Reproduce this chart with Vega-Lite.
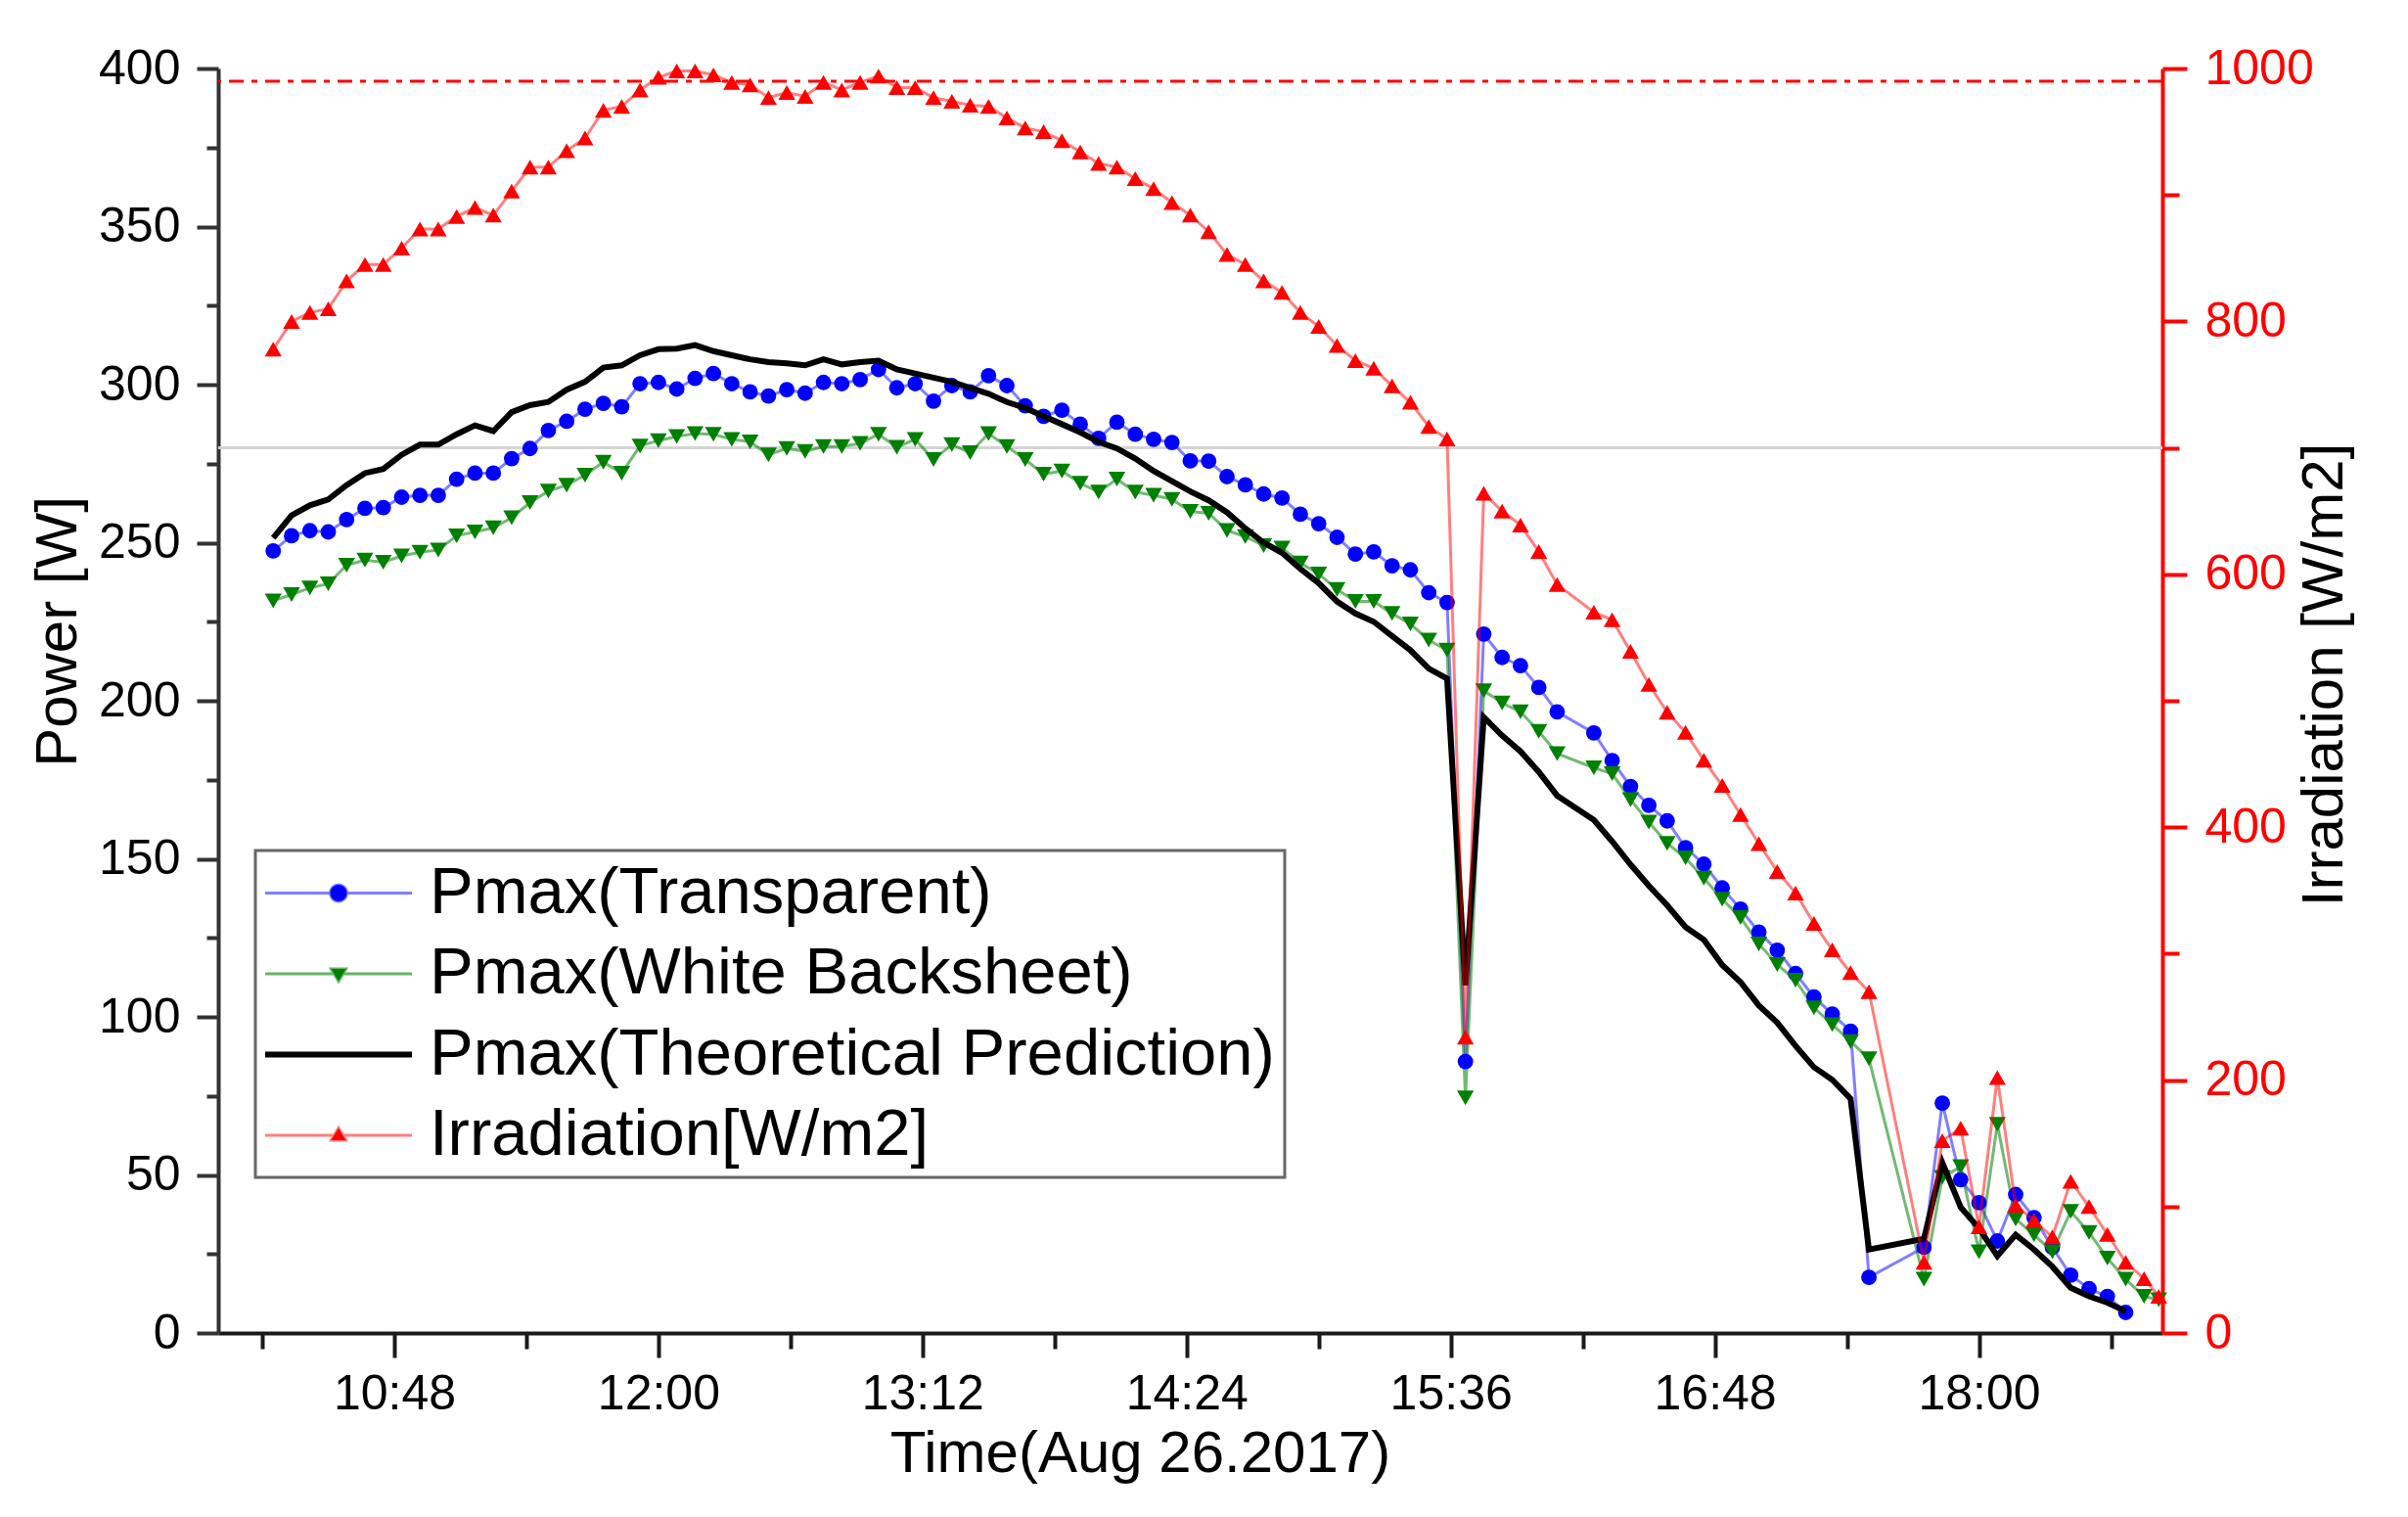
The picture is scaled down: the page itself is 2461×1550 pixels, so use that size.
{
  "$schema": "https://vega.github.io/schema/vega-lite/v6.json",
  "width": 1987,
  "height": 1292,
  "autosize": {"type": "none"},
  "padding": {"left": 223, "top": 70, "right": 251, "bottom": 188},
  "background": "white",
  "datasets": {
    "power": [
      {"time":"2017-08-26T10:15","series":"Pmax(Transparent)","power":247.4},
      {"time":"2017-08-26T10:20","series":"Pmax(Transparent)","power":252.2},
      {"time":"2017-08-26T10:25","series":"Pmax(Transparent)","power":253.8},
      {"time":"2017-08-26T10:30","series":"Pmax(Transparent)","power":253.4},
      {"time":"2017-08-26T10:35","series":"Pmax(Transparent)","power":257.3},
      {"time":"2017-08-26T10:40","series":"Pmax(Transparent)","power":260.9},
      {"time":"2017-08-26T10:45","series":"Pmax(Transparent)","power":261.1},
      {"time":"2017-08-26T10:50","series":"Pmax(Transparent)","power":264.4},
      {"time":"2017-08-26T10:55","series":"Pmax(Transparent)","power":265.0},
      {"time":"2017-08-26T11:00","series":"Pmax(Transparent)","power":265.0},
      {"time":"2017-08-26T11:05","series":"Pmax(Transparent)","power":270.1},
      {"time":"2017-08-26T11:10","series":"Pmax(Transparent)","power":272.0},
      {"time":"2017-08-26T11:15","series":"Pmax(Transparent)","power":272.0},
      {"time":"2017-08-26T11:20","series":"Pmax(Transparent)","power":276.6},
      {"time":"2017-08-26T11:25","series":"Pmax(Transparent)","power":279.8},
      {"time":"2017-08-26T11:30","series":"Pmax(Transparent)","power":285.5},
      {"time":"2017-08-26T11:35","series":"Pmax(Transparent)","power":288.4},
      {"time":"2017-08-26T11:40","series":"Pmax(Transparent)","power":292.2},
      {"time":"2017-08-26T11:45","series":"Pmax(Transparent)","power":294.1},
      {"time":"2017-08-26T11:50","series":"Pmax(Transparent)","power":293.0},
      {"time":"2017-08-26T11:55","series":"Pmax(Transparent)","power":300.3},
      {"time":"2017-08-26T12:00","series":"Pmax(Transparent)","power":300.7},
      {"time":"2017-08-26T12:05","series":"Pmax(Transparent)","power":298.6},
      {"time":"2017-08-26T12:10","series":"Pmax(Transparent)","power":302.0},
      {"time":"2017-08-26T12:15","series":"Pmax(Transparent)","power":303.5},
      {"time":"2017-08-26T12:20","series":"Pmax(Transparent)","power":300.3},
      {"time":"2017-08-26T12:25","series":"Pmax(Transparent)","power":297.7},
      {"time":"2017-08-26T12:30","series":"Pmax(Transparent)","power":296.4},
      {"time":"2017-08-26T12:35","series":"Pmax(Transparent)","power":298.4},
      {"time":"2017-08-26T12:40","series":"Pmax(Transparent)","power":297.3},
      {"time":"2017-08-26T12:45","series":"Pmax(Transparent)","power":300.7},
      {"time":"2017-08-26T12:50","series":"Pmax(Transparent)","power":300.3},
      {"time":"2017-08-26T12:55","series":"Pmax(Transparent)","power":301.6},
      {"time":"2017-08-26T13:00","series":"Pmax(Transparent)","power":304.8},
      {"time":"2017-08-26T13:05","series":"Pmax(Transparent)","power":299.0},
      {"time":"2017-08-26T13:10","series":"Pmax(Transparent)","power":300.3},
      {"time":"2017-08-26T13:15","series":"Pmax(Transparent)","power":294.8},
      {"time":"2017-08-26T13:20","series":"Pmax(Transparent)","power":299.7},
      {"time":"2017-08-26T13:25","series":"Pmax(Transparent)","power":297.7},
      {"time":"2017-08-26T13:30","series":"Pmax(Transparent)","power":302.8},
      {"time":"2017-08-26T13:35","series":"Pmax(Transparent)","power":299.7},
      {"time":"2017-08-26T13:40","series":"Pmax(Transparent)","power":293.3},
      {"time":"2017-08-26T13:45","series":"Pmax(Transparent)","power":290.0},
      {"time":"2017-08-26T13:50","series":"Pmax(Transparent)","power":291.9},
      {"time":"2017-08-26T13:55","series":"Pmax(Transparent)","power":287.5},
      {"time":"2017-08-26T14:00","series":"Pmax(Transparent)","power":283.0},
      {"time":"2017-08-26T14:05","series":"Pmax(Transparent)","power":288.1},
      {"time":"2017-08-26T14:10","series":"Pmax(Transparent)","power":284.3},
      {"time":"2017-08-26T14:15","series":"Pmax(Transparent)","power":282.7},
      {"time":"2017-08-26T14:20","series":"Pmax(Transparent)","power":281.7},
      {"time":"2017-08-26T14:25","series":"Pmax(Transparent)","power":275.9},
      {"time":"2017-08-26T14:30","series":"Pmax(Transparent)","power":275.8},
      {"time":"2017-08-26T14:35","series":"Pmax(Transparent)","power":270.9},
      {"time":"2017-08-26T14:40","series":"Pmax(Transparent)","power":268.3},
      {"time":"2017-08-26T14:45","series":"Pmax(Transparent)","power":265.4},
      {"time":"2017-08-26T14:50","series":"Pmax(Transparent)","power":264.1},
      {"time":"2017-08-26T14:55","series":"Pmax(Transparent)","power":259.0},
      {"time":"2017-08-26T15:00","series":"Pmax(Transparent)","power":256.0},
      {"time":"2017-08-26T15:05","series":"Pmax(Transparent)","power":251.7},
      {"time":"2017-08-26T15:10","series":"Pmax(Transparent)","power":246.4},
      {"time":"2017-08-26T15:15","series":"Pmax(Transparent)","power":247.1},
      {"time":"2017-08-26T15:20","series":"Pmax(Transparent)","power":242.7},
      {"time":"2017-08-26T15:25","series":"Pmax(Transparent)","power":241.4},
      {"time":"2017-08-26T15:30","series":"Pmax(Transparent)","power":234.2},
      {"time":"2017-08-26T15:35","series":"Pmax(Transparent)","power":231.1},
      {"time":"2017-08-26T15:40","series":"Pmax(Transparent)","power":85.9},
      {"time":"2017-08-26T15:45","series":"Pmax(Transparent)","power":221.1},
      {"time":"2017-08-26T15:50","series":"Pmax(Transparent)","power":213.7},
      {"time":"2017-08-26T15:55","series":"Pmax(Transparent)","power":211.1},
      {"time":"2017-08-26T16:00","series":"Pmax(Transparent)","power":204.2},
      {"time":"2017-08-26T16:05","series":"Pmax(Transparent)","power":196.5},
      {"time":"2017-08-26T16:15","series":"Pmax(Transparent)","power":189.8},
      {"time":"2017-08-26T16:20","series":"Pmax(Transparent)","power":181.1},
      {"time":"2017-08-26T16:25","series":"Pmax(Transparent)","power":172.9},
      {"time":"2017-08-26T16:30","series":"Pmax(Transparent)","power":166.9},
      {"time":"2017-08-26T16:35","series":"Pmax(Transparent)","power":162.0},
      {"time":"2017-08-26T16:40","series":"Pmax(Transparent)","power":153.5},
      {"time":"2017-08-26T16:45","series":"Pmax(Transparent)","power":148.3},
      {"time":"2017-08-26T16:50","series":"Pmax(Transparent)","power":140.8},
      {"time":"2017-08-26T16:55","series":"Pmax(Transparent)","power":134.1},
      {"time":"2017-08-26T17:00","series":"Pmax(Transparent)","power":126.8},
      {"time":"2017-08-26T17:05","series":"Pmax(Transparent)","power":121.1},
      {"time":"2017-08-26T17:10","series":"Pmax(Transparent)","power":113.7},
      {"time":"2017-08-26T17:15","series":"Pmax(Transparent)","power":106.3},
      {"time":"2017-08-26T17:20","series":"Pmax(Transparent)","power":100.9},
      {"time":"2017-08-26T17:25","series":"Pmax(Transparent)","power":95.5},
      {"time":"2017-08-26T17:30","series":"Pmax(Transparent)","power":17.6},
      {"time":"2017-08-26T17:45","series":"Pmax(Transparent)","power":27.1},
      {"time":"2017-08-26T17:50","series":"Pmax(Transparent)","power":72.7},
      {"time":"2017-08-26T17:55","series":"Pmax(Transparent)","power":48.5},
      {"time":"2017-08-26T18:00","series":"Pmax(Transparent)","power":41.2},
      {"time":"2017-08-26T18:05","series":"Pmax(Transparent)","power":29.1},
      {"time":"2017-08-26T18:10","series":"Pmax(Transparent)","power":43.8},
      {"time":"2017-08-26T18:15","series":"Pmax(Transparent)","power":36.5},
      {"time":"2017-08-26T18:20","series":"Pmax(Transparent)","power":27.1},
      {"time":"2017-08-26T18:25","series":"Pmax(Transparent)","power":18.3},
      {"time":"2017-08-26T18:30","series":"Pmax(Transparent)","power":14.0},
      {"time":"2017-08-26T18:35","series":"Pmax(Transparent)","power":11.6},
      {"time":"2017-08-26T18:40","series":"Pmax(Transparent)","power":6.5},

      {"time":"2017-08-26T10:15","series":"Pmax(White Backsheet)","power":231.6},
      {"time":"2017-08-26T10:20","series":"Pmax(White Backsheet)","power":233.6},
      {"time":"2017-08-26T10:25","series":"Pmax(White Backsheet)","power":235.7},
      {"time":"2017-08-26T10:30","series":"Pmax(White Backsheet)","power":237.0},
      {"time":"2017-08-26T10:35","series":"Pmax(White Backsheet)","power":242.9},
      {"time":"2017-08-26T10:40","series":"Pmax(White Backsheet)","power":244.5},
      {"time":"2017-08-26T10:45","series":"Pmax(White Backsheet)","power":243.8},
      {"time":"2017-08-26T10:50","series":"Pmax(White Backsheet)","power":245.8},
      {"time":"2017-08-26T10:55","series":"Pmax(White Backsheet)","power":247.0},
      {"time":"2017-08-26T11:00","series":"Pmax(White Backsheet)","power":247.7},
      {"time":"2017-08-26T11:05","series":"Pmax(White Backsheet)","power":252.2},
      {"time":"2017-08-26T11:10","series":"Pmax(White Backsheet)","power":253.4},
      {"time":"2017-08-26T11:15","series":"Pmax(White Backsheet)","power":254.7},
      {"time":"2017-08-26T11:20","series":"Pmax(White Backsheet)","power":257.9},
      {"time":"2017-08-26T11:25","series":"Pmax(White Backsheet)","power":262.7},
      {"time":"2017-08-26T11:30","series":"Pmax(White Backsheet)","power":266.3},
      {"time":"2017-08-26T11:35","series":"Pmax(White Backsheet)","power":268.2},
      {"time":"2017-08-26T11:40","series":"Pmax(White Backsheet)","power":271.4},
      {"time":"2017-08-26T11:45","series":"Pmax(White Backsheet)","power":275.5},
      {"time":"2017-08-26T11:50","series":"Pmax(White Backsheet)","power":272.0},
      {"time":"2017-08-26T11:55","series":"Pmax(White Backsheet)","power":280.6},
      {"time":"2017-08-26T12:00","series":"Pmax(White Backsheet)","power":282.3},
      {"time":"2017-08-26T12:05","series":"Pmax(White Backsheet)","power":283.6},
      {"time":"2017-08-26T12:10","series":"Pmax(White Backsheet)","power":284.5},
      {"time":"2017-08-26T12:15","series":"Pmax(White Backsheet)","power":284.3},
      {"time":"2017-08-26T12:20","series":"Pmax(White Backsheet)","power":282.7},
      {"time":"2017-08-26T12:25","series":"Pmax(White Backsheet)","power":281.9},
      {"time":"2017-08-26T12:30","series":"Pmax(White Backsheet)","power":277.8},
      {"time":"2017-08-26T12:35","series":"Pmax(White Backsheet)","power":279.8},
      {"time":"2017-08-26T12:40","series":"Pmax(White Backsheet)","power":278.9},
      {"time":"2017-08-26T12:45","series":"Pmax(White Backsheet)","power":280.4},
      {"time":"2017-08-26T12:50","series":"Pmax(White Backsheet)","power":280.4},
      {"time":"2017-08-26T12:55","series":"Pmax(White Backsheet)","power":281.4},
      {"time":"2017-08-26T13:00","series":"Pmax(White Backsheet)","power":284.3},
      {"time":"2017-08-26T13:05","series":"Pmax(White Backsheet)","power":280.2},
      {"time":"2017-08-26T13:10","series":"Pmax(White Backsheet)","power":282.7},
      {"time":"2017-08-26T13:15","series":"Pmax(White Backsheet)","power":276.3},
      {"time":"2017-08-26T13:20","series":"Pmax(White Backsheet)","power":281.0},
      {"time":"2017-08-26T13:25","series":"Pmax(White Backsheet)","power":278.5},
      {"time":"2017-08-26T13:30","series":"Pmax(White Backsheet)","power":284.5},
      {"time":"2017-08-26T13:35","series":"Pmax(White Backsheet)","power":280.4},
      {"time":"2017-08-26T13:40","series":"Pmax(White Backsheet)","power":276.3},
      {"time":"2017-08-26T13:45","series":"Pmax(White Backsheet)","power":271.7},
      {"time":"2017-08-26T13:50","series":"Pmax(White Backsheet)","power":272.7},
      {"time":"2017-08-26T13:55","series":"Pmax(White Backsheet)","power":268.8},
      {"time":"2017-08-26T14:00","series":"Pmax(White Backsheet)","power":266.0},
      {"time":"2017-08-26T14:05","series":"Pmax(White Backsheet)","power":270.1},
      {"time":"2017-08-26T14:10","series":"Pmax(White Backsheet)","power":266.0},
      {"time":"2017-08-26T14:15","series":"Pmax(White Backsheet)","power":265.0},
      {"time":"2017-08-26T14:20","series":"Pmax(White Backsheet)","power":263.7},
      {"time":"2017-08-26T14:25","series":"Pmax(White Backsheet)","power":259.9},
      {"time":"2017-08-26T14:30","series":"Pmax(White Backsheet)","power":259.3},
      {"time":"2017-08-26T14:35","series":"Pmax(White Backsheet)","power":253.9},
      {"time":"2017-08-26T14:40","series":"Pmax(White Backsheet)","power":251.9},
      {"time":"2017-08-26T14:45","series":"Pmax(White Backsheet)","power":249.1},
      {"time":"2017-08-26T14:50","series":"Pmax(White Backsheet)","power":248.3},
      {"time":"2017-08-26T14:55","series":"Pmax(White Backsheet)","power":243.6},
      {"time":"2017-08-26T15:00","series":"Pmax(White Backsheet)","power":240.1},
      {"time":"2017-08-26T15:05","series":"Pmax(White Backsheet)","power":235.2},
      {"time":"2017-08-26T15:10","series":"Pmax(White Backsheet)","power":231.4},
      {"time":"2017-08-26T15:15","series":"Pmax(White Backsheet)","power":231.4},
      {"time":"2017-08-26T15:20","series":"Pmax(White Backsheet)","power":227.6},
      {"time":"2017-08-26T15:25","series":"Pmax(White Backsheet)","power":224.3},
      {"time":"2017-08-26T15:30","series":"Pmax(White Backsheet)","power":219.2},
      {"time":"2017-08-26T15:35","series":"Pmax(White Backsheet)","power":216.0},
      {"time":"2017-08-26T15:40","series":"Pmax(White Backsheet)","power":74.4},
      {"time":"2017-08-26T15:45","series":"Pmax(White Backsheet)","power":203.2},
      {"time":"2017-08-26T15:50","series":"Pmax(White Backsheet)","power":199.3},
      {"time":"2017-08-26T15:55","series":"Pmax(White Backsheet)","power":196.5},
      {"time":"2017-08-26T16:00","series":"Pmax(White Backsheet)","power":190.3},
      {"time":"2017-08-26T16:05","series":"Pmax(White Backsheet)","power":183.3},
      {"time":"2017-08-26T16:15","series":"Pmax(White Backsheet)","power":178.8},
      {"time":"2017-08-26T16:20","series":"Pmax(White Backsheet)","power":176.9},
      {"time":"2017-08-26T16:25","series":"Pmax(White Backsheet)","power":168.7},
      {"time":"2017-08-26T16:30","series":"Pmax(White Backsheet)","power":161.6},
      {"time":"2017-08-26T16:35","series":"Pmax(White Backsheet)","power":154.9},
      {"time":"2017-08-26T16:40","series":"Pmax(White Backsheet)","power":150.3},
      {"time":"2017-08-26T16:45","series":"Pmax(White Backsheet)","power":143.9},
      {"time":"2017-08-26T16:50","series":"Pmax(White Backsheet)","power":137.2},
      {"time":"2017-08-26T16:55","series":"Pmax(White Backsheet)","power":131.4},
      {"time":"2017-08-26T17:00","series":"Pmax(White Backsheet)","power":123.1},
      {"time":"2017-08-26T17:05","series":"Pmax(White Backsheet)","power":116.6},
      {"time":"2017-08-26T17:10","series":"Pmax(White Backsheet)","power":111.6},
      {"time":"2017-08-26T17:15","series":"Pmax(White Backsheet)","power":102.9},
      {"time":"2017-08-26T17:20","series":"Pmax(White Backsheet)","power":97.6},
      {"time":"2017-08-26T17:25","series":"Pmax(White Backsheet)","power":92.2},
      {"time":"2017-08-26T17:30","series":"Pmax(White Backsheet)","power":86.8},
      {"time":"2017-08-26T17:45","series":"Pmax(White Backsheet)","power":17.0},
      {"time":"2017-08-26T17:50","series":"Pmax(White Backsheet)","power":49.2},
      {"time":"2017-08-26T17:55","series":"Pmax(White Backsheet)","power":52.6},
      {"time":"2017-08-26T18:00","series":"Pmax(White Backsheet)","power":25.7},
      {"time":"2017-08-26T18:05","series":"Pmax(White Backsheet)","power":66.0},
      {"time":"2017-08-26T18:10","series":"Pmax(White Backsheet)","power":36.1},
      {"time":"2017-08-26T18:15","series":"Pmax(White Backsheet)","power":31.1},
      {"time":"2017-08-26T18:20","series":"Pmax(White Backsheet)","power":25.7},
      {"time":"2017-08-26T18:25","series":"Pmax(White Backsheet)","power":38.5},
      {"time":"2017-08-26T18:30","series":"Pmax(White Backsheet)","power":31.8},
      {"time":"2017-08-26T18:35","series":"Pmax(White Backsheet)","power":23.7},
      {"time":"2017-08-26T18:40","series":"Pmax(White Backsheet)","power":17.0},
      {"time":"2017-08-26T18:45","series":"Pmax(White Backsheet)","power":11.6},
      {"time":"2017-08-26T18:49","series":"Pmax(White Backsheet)","power":10.5},

      {"time":"2017-08-26T10:15","series":"Pmax(Theoretical Prediction)","power":251.5},
      {"time":"2017-08-26T10:20","series":"Pmax(Theoretical Prediction)","power":258.6},
      {"time":"2017-08-26T10:25","series":"Pmax(Theoretical Prediction)","power":261.8},
      {"time":"2017-08-26T10:30","series":"Pmax(Theoretical Prediction)","power":263.7},
      {"time":"2017-08-26T10:35","series":"Pmax(Theoretical Prediction)","power":268.2},
      {"time":"2017-08-26T10:40","series":"Pmax(Theoretical Prediction)","power":272.0},
      {"time":"2017-08-26T10:45","series":"Pmax(Theoretical Prediction)","power":273.3},
      {"time":"2017-08-26T10:50","series":"Pmax(Theoretical Prediction)","power":277.8},
      {"time":"2017-08-26T10:55","series":"Pmax(Theoretical Prediction)","power":281.0},
      {"time":"2017-08-26T11:00","series":"Pmax(Theoretical Prediction)","power":281.0},
      {"time":"2017-08-26T11:05","series":"Pmax(Theoretical Prediction)","power":284.3},
      {"time":"2017-08-26T11:10","series":"Pmax(Theoretical Prediction)","power":287.1},
      {"time":"2017-08-26T11:15","series":"Pmax(Theoretical Prediction)","power":285.3},
      {"time":"2017-08-26T11:20","series":"Pmax(Theoretical Prediction)","power":291.3},
      {"time":"2017-08-26T11:25","series":"Pmax(Theoretical Prediction)","power":293.5},
      {"time":"2017-08-26T11:30","series":"Pmax(Theoretical Prediction)","power":294.5},
      {"time":"2017-08-26T11:35","series":"Pmax(Theoretical Prediction)","power":298.4},
      {"time":"2017-08-26T11:40","series":"Pmax(Theoretical Prediction)","power":300.9},
      {"time":"2017-08-26T11:45","series":"Pmax(Theoretical Prediction)","power":305.4},
      {"time":"2017-08-26T11:50","series":"Pmax(Theoretical Prediction)","power":306.1},
      {"time":"2017-08-26T11:55","series":"Pmax(Theoretical Prediction)","power":309.3},
      {"time":"2017-08-26T12:00","series":"Pmax(Theoretical Prediction)","power":311.2},
      {"time":"2017-08-26T12:05","series":"Pmax(Theoretical Prediction)","power":311.4},
      {"time":"2017-08-26T12:10","series":"Pmax(Theoretical Prediction)","power":312.5},
      {"time":"2017-08-26T12:15","series":"Pmax(Theoretical Prediction)","power":310.6},
      {"time":"2017-08-26T12:20","series":"Pmax(Theoretical Prediction)","power":309.3},
      {"time":"2017-08-26T12:25","series":"Pmax(Theoretical Prediction)","power":308.0},
      {"time":"2017-08-26T12:30","series":"Pmax(Theoretical Prediction)","power":307.1},
      {"time":"2017-08-26T12:35","series":"Pmax(Theoretical Prediction)","power":306.7},
      {"time":"2017-08-26T12:40","series":"Pmax(Theoretical Prediction)","power":306.1},
      {"time":"2017-08-26T12:45","series":"Pmax(Theoretical Prediction)","power":308.0},
      {"time":"2017-08-26T12:50","series":"Pmax(Theoretical Prediction)","power":306.4},
      {"time":"2017-08-26T12:55","series":"Pmax(Theoretical Prediction)","power":307.1},
      {"time":"2017-08-26T13:00","series":"Pmax(Theoretical Prediction)","power":307.6},
      {"time":"2017-08-26T13:05","series":"Pmax(Theoretical Prediction)","power":304.8},
      {"time":"2017-08-26T13:10","series":"Pmax(Theoretical Prediction)","power":303.5},
      {"time":"2017-08-26T13:15","series":"Pmax(Theoretical Prediction)","power":302.2},
      {"time":"2017-08-26T13:20","series":"Pmax(Theoretical Prediction)","power":300.9},
      {"time":"2017-08-26T13:25","series":"Pmax(Theoretical Prediction)","power":299.0},
      {"time":"2017-08-26T13:30","series":"Pmax(Theoretical Prediction)","power":297.1},
      {"time":"2017-08-26T13:35","series":"Pmax(Theoretical Prediction)","power":294.5},
      {"time":"2017-08-26T13:40","series":"Pmax(Theoretical Prediction)","power":292.6},
      {"time":"2017-08-26T13:45","series":"Pmax(Theoretical Prediction)","power":290.0},
      {"time":"2017-08-26T13:50","series":"Pmax(Theoretical Prediction)","power":287.5},
      {"time":"2017-08-26T13:55","series":"Pmax(Theoretical Prediction)","power":284.9},
      {"time":"2017-08-26T14:00","series":"Pmax(Theoretical Prediction)","power":281.9},
      {"time":"2017-08-26T14:05","series":"Pmax(Theoretical Prediction)","power":279.8},
      {"time":"2017-08-26T14:10","series":"Pmax(Theoretical Prediction)","power":276.6},
      {"time":"2017-08-26T14:15","series":"Pmax(Theoretical Prediction)","power":272.7},
      {"time":"2017-08-26T14:20","series":"Pmax(Theoretical Prediction)","power":269.5},
      {"time":"2017-08-26T14:25","series":"Pmax(Theoretical Prediction)","power":266.2},
      {"time":"2017-08-26T14:30","series":"Pmax(Theoretical Prediction)","power":263.4},
      {"time":"2017-08-26T14:35","series":"Pmax(Theoretical Prediction)","power":259.6},
      {"time":"2017-08-26T14:40","series":"Pmax(Theoretical Prediction)","power":254.5},
      {"time":"2017-08-26T14:45","series":"Pmax(Theoretical Prediction)","power":250.0},
      {"time":"2017-08-26T14:50","series":"Pmax(Theoretical Prediction)","power":246.8},
      {"time":"2017-08-26T14:55","series":"Pmax(Theoretical Prediction)","power":241.7},
      {"time":"2017-08-26T15:00","series":"Pmax(Theoretical Prediction)","power":237.2},
      {"time":"2017-08-26T15:05","series":"Pmax(Theoretical Prediction)","power":231.4},
      {"time":"2017-08-26T15:10","series":"Pmax(Theoretical Prediction)","power":227.6},
      {"time":"2017-08-26T15:15","series":"Pmax(Theoretical Prediction)","power":225.0},
      {"time":"2017-08-26T15:20","series":"Pmax(Theoretical Prediction)","power":220.5},
      {"time":"2017-08-26T15:25","series":"Pmax(Theoretical Prediction)","power":216.0},
      {"time":"2017-08-26T15:30","series":"Pmax(Theoretical Prediction)","power":210.2},
      {"time":"2017-08-26T15:35","series":"Pmax(Theoretical Prediction)","power":207.0},
      {"time":"2017-08-26T15:40","series":"Pmax(Theoretical Prediction)","power":110.0},
      {"time":"2017-08-26T15:45","series":"Pmax(Theoretical Prediction)","power":194.8},
      {"time":"2017-08-26T15:50","series":"Pmax(Theoretical Prediction)","power":189.0},
      {"time":"2017-08-26T15:55","series":"Pmax(Theoretical Prediction)","power":184.0},
      {"time":"2017-08-26T16:00","series":"Pmax(Theoretical Prediction)","power":177.5},
      {"time":"2017-08-26T16:05","series":"Pmax(Theoretical Prediction)","power":170.0},
      {"time":"2017-08-26T16:15","series":"Pmax(Theoretical Prediction)","power":162.3},
      {"time":"2017-08-26T16:20","series":"Pmax(Theoretical Prediction)","power":155.5},
      {"time":"2017-08-26T16:25","series":"Pmax(Theoretical Prediction)","power":148.2},
      {"time":"2017-08-26T16:30","series":"Pmax(Theoretical Prediction)","power":141.5},
      {"time":"2017-08-26T16:35","series":"Pmax(Theoretical Prediction)","power":135.3},
      {"time":"2017-08-26T16:40","series":"Pmax(Theoretical Prediction)","power":128.4},
      {"time":"2017-08-26T16:45","series":"Pmax(Theoretical Prediction)","power":124.4},
      {"time":"2017-08-26T16:50","series":"Pmax(Theoretical Prediction)","power":116.4},
      {"time":"2017-08-26T16:55","series":"Pmax(Theoretical Prediction)","power":111.0},
      {"time":"2017-08-26T17:00","series":"Pmax(Theoretical Prediction)","power":103.6},
      {"time":"2017-08-26T17:05","series":"Pmax(Theoretical Prediction)","power":98.2},
      {"time":"2017-08-26T17:10","series":"Pmax(Theoretical Prediction)","power":90.8},
      {"time":"2017-08-26T17:15","series":"Pmax(Theoretical Prediction)","power":84.1},
      {"time":"2017-08-26T17:20","series":"Pmax(Theoretical Prediction)","power":80.1},
      {"time":"2017-08-26T17:25","series":"Pmax(Theoretical Prediction)","power":74.1},
      {"time":"2017-08-26T17:30","series":"Pmax(Theoretical Prediction)","power":26.4},
      {"time":"2017-08-26T17:45","series":"Pmax(Theoretical Prediction)","power":29.8},
      {"time":"2017-08-26T17:50","series":"Pmax(Theoretical Prediction)","power":53.9},
      {"time":"2017-08-26T17:55","series":"Pmax(Theoretical Prediction)","power":39.8},
      {"time":"2017-08-26T18:00","series":"Pmax(Theoretical Prediction)","power":33.1},
      {"time":"2017-08-26T18:05","series":"Pmax(Theoretical Prediction)","power":24.4},
      {"time":"2017-08-26T18:10","series":"Pmax(Theoretical Prediction)","power":31.1},
      {"time":"2017-08-26T18:15","series":"Pmax(Theoretical Prediction)","power":26.4},
      {"time":"2017-08-26T18:20","series":"Pmax(Theoretical Prediction)","power":21.0},
      {"time":"2017-08-26T18:25","series":"Pmax(Theoretical Prediction)","power":14.3},
      {"time":"2017-08-26T18:30","series":"Pmax(Theoretical Prediction)","power":11.6},
      {"time":"2017-08-26T18:35","series":"Pmax(Theoretical Prediction)","power":9.6},
      {"time":"2017-08-26T18:40","series":"Pmax(Theoretical Prediction)","power":6.9}
    ],
    "irr": [
      {"time":"2017-08-26T10:15","series":"Irradiation[W/m2]","irradiance":778},
      {"time":"2017-08-26T10:20","series":"Irradiation[W/m2]","irradiance":800},
      {"time":"2017-08-26T10:25","series":"Irradiation[W/m2]","irradiance":807},
      {"time":"2017-08-26T10:30","series":"Irradiation[W/m2]","irradiance":810},
      {"time":"2017-08-26T10:35","series":"Irradiation[W/m2]","irradiance":832},
      {"time":"2017-08-26T10:40","series":"Irradiation[W/m2]","irradiance":845},
      {"time":"2017-08-26T10:45","series":"Irradiation[W/m2]","irradiance":845},
      {"time":"2017-08-26T10:50","series":"Irradiation[W/m2]","irradiance":858},
      {"time":"2017-08-26T10:55","series":"Irradiation[W/m2]","irradiance":873},
      {"time":"2017-08-26T11:00","series":"Irradiation[W/m2]","irradiance":873},
      {"time":"2017-08-26T11:05","series":"Irradiation[W/m2]","irradiance":883},
      {"time":"2017-08-26T11:10","series":"Irradiation[W/m2]","irradiance":890},
      {"time":"2017-08-26T11:15","series":"Irradiation[W/m2]","irradiance":884},
      {"time":"2017-08-26T11:20","series":"Irradiation[W/m2]","irradiance":903},
      {"time":"2017-08-26T11:25","series":"Irradiation[W/m2]","irradiance":922},
      {"time":"2017-08-26T11:30","series":"Irradiation[W/m2]","irradiance":922},
      {"time":"2017-08-26T11:35","series":"Irradiation[W/m2]","irradiance":935},
      {"time":"2017-08-26T11:40","series":"Irradiation[W/m2]","irradiance":945},
      {"time":"2017-08-26T11:45","series":"Irradiation[W/m2]","irradiance":967},
      {"time":"2017-08-26T11:50","series":"Irradiation[W/m2]","irradiance":970},
      {"time":"2017-08-26T11:55","series":"Irradiation[W/m2]","irradiance":983},
      {"time":"2017-08-26T12:00","series":"Irradiation[W/m2]","irradiance":993},
      {"time":"2017-08-26T12:05","series":"Irradiation[W/m2]","irradiance":998},
      {"time":"2017-08-26T12:10","series":"Irradiation[W/m2]","irradiance":998},
      {"time":"2017-08-26T12:15","series":"Irradiation[W/m2]","irradiance":995},
      {"time":"2017-08-26T12:20","series":"Irradiation[W/m2]","irradiance":989},
      {"time":"2017-08-26T12:25","series":"Irradiation[W/m2]","irradiance":987},
      {"time":"2017-08-26T12:30","series":"Irradiation[W/m2]","irradiance":977},
      {"time":"2017-08-26T12:35","series":"Irradiation[W/m2]","irradiance":981},
      {"time":"2017-08-26T12:40","series":"Irradiation[W/m2]","irradiance":978},
      {"time":"2017-08-26T12:45","series":"Irradiation[W/m2]","irradiance":989},
      {"time":"2017-08-26T12:50","series":"Irradiation[W/m2]","irradiance":983},
      {"time":"2017-08-26T12:55","series":"Irradiation[W/m2]","irradiance":989},
      {"time":"2017-08-26T13:00","series":"Irradiation[W/m2]","irradiance":994},
      {"time":"2017-08-26T13:05","series":"Irradiation[W/m2]","irradiance":985},
      {"time":"2017-08-26T13:10","series":"Irradiation[W/m2]","irradiance":985},
      {"time":"2017-08-26T13:15","series":"Irradiation[W/m2]","irradiance":977},
      {"time":"2017-08-26T13:20","series":"Irradiation[W/m2]","irradiance":974},
      {"time":"2017-08-26T13:25","series":"Irradiation[W/m2]","irradiance":971},
      {"time":"2017-08-26T13:30","series":"Irradiation[W/m2]","irradiance":970},
      {"time":"2017-08-26T13:35","series":"Irradiation[W/m2]","irradiance":961},
      {"time":"2017-08-26T13:40","series":"Irradiation[W/m2]","irradiance":953},
      {"time":"2017-08-26T13:45","series":"Irradiation[W/m2]","irradiance":950},
      {"time":"2017-08-26T13:50","series":"Irradiation[W/m2]","irradiance":943},
      {"time":"2017-08-26T13:55","series":"Irradiation[W/m2]","irradiance":934},
      {"time":"2017-08-26T14:00","series":"Irradiation[W/m2]","irradiance":925},
      {"time":"2017-08-26T14:05","series":"Irradiation[W/m2]","irradiance":922},
      {"time":"2017-08-26T14:10","series":"Irradiation[W/m2]","irradiance":913},
      {"time":"2017-08-26T14:15","series":"Irradiation[W/m2]","irradiance":905},
      {"time":"2017-08-26T14:20","series":"Irradiation[W/m2]","irradiance":894},
      {"time":"2017-08-26T14:25","series":"Irradiation[W/m2]","irradiance":884},
      {"time":"2017-08-26T14:30","series":"Irradiation[W/m2]","irradiance":871},
      {"time":"2017-08-26T14:35","series":"Irradiation[W/m2]","irradiance":853},
      {"time":"2017-08-26T14:40","series":"Irradiation[W/m2]","irradiance":845},
      {"time":"2017-08-26T14:45","series":"Irradiation[W/m2]","irradiance":832},
      {"time":"2017-08-26T14:50","series":"Irradiation[W/m2]","irradiance":823},
      {"time":"2017-08-26T14:55","series":"Irradiation[W/m2]","irradiance":807},
      {"time":"2017-08-26T15:00","series":"Irradiation[W/m2]","irradiance":796},
      {"time":"2017-08-26T15:05","series":"Irradiation[W/m2]","irradiance":781},
      {"time":"2017-08-26T15:10","series":"Irradiation[W/m2]","irradiance":769},
      {"time":"2017-08-26T15:15","series":"Irradiation[W/m2]","irradiance":763},
      {"time":"2017-08-26T15:20","series":"Irradiation[W/m2]","irradiance":749},
      {"time":"2017-08-26T15:25","series":"Irradiation[W/m2]","irradiance":736},
      {"time":"2017-08-26T15:30","series":"Irradiation[W/m2]","irradiance":717},
      {"time":"2017-08-26T15:35","series":"Irradiation[W/m2]","irradiance":707},
      {"time":"2017-08-26T15:40","series":"Irradiation[W/m2]","irradiance":234},
      {"time":"2017-08-26T15:45","series":"Irradiation[W/m2]","irradiance":664},
      {"time":"2017-08-26T15:50","series":"Irradiation[W/m2]","irradiance":650},
      {"time":"2017-08-26T15:55","series":"Irradiation[W/m2]","irradiance":639},
      {"time":"2017-08-26T16:00","series":"Irradiation[W/m2]","irradiance":618},
      {"time":"2017-08-26T16:05","series":"Irradiation[W/m2]","irradiance":592},
      {"time":"2017-08-26T16:15","series":"Irradiation[W/m2]","irradiance":570},
      {"time":"2017-08-26T16:20","series":"Irradiation[W/m2]","irradiance":564},
      {"time":"2017-08-26T16:25","series":"Irradiation[W/m2]","irradiance":539},
      {"time":"2017-08-26T16:30","series":"Irradiation[W/m2]","irradiance":513},
      {"time":"2017-08-26T16:35","series":"Irradiation[W/m2]","irradiance":491},
      {"time":"2017-08-26T16:40","series":"Irradiation[W/m2]","irradiance":475},
      {"time":"2017-08-26T16:45","series":"Irradiation[W/m2]","irradiance":453},
      {"time":"2017-08-26T16:50","series":"Irradiation[W/m2]","irradiance":433},
      {"time":"2017-08-26T16:55","series":"Irradiation[W/m2]","irradiance":410},
      {"time":"2017-08-26T17:00","series":"Irradiation[W/m2]","irradiance":387},
      {"time":"2017-08-26T17:05","series":"Irradiation[W/m2]","irradiance":365},
      {"time":"2017-08-26T17:10","series":"Irradiation[W/m2]","irradiance":348},
      {"time":"2017-08-26T17:15","series":"Irradiation[W/m2]","irradiance":324},
      {"time":"2017-08-26T17:20","series":"Irradiation[W/m2]","irradiance":303},
      {"time":"2017-08-26T17:25","series":"Irradiation[W/m2]","irradiance":285},
      {"time":"2017-08-26T17:30","series":"Irradiation[W/m2]","irradiance":270},
      {"time":"2017-08-26T17:45","series":"Irradiation[W/m2]","irradiance":56},
      {"time":"2017-08-26T17:50","series":"Irradiation[W/m2]","irradiance":152},
      {"time":"2017-08-26T17:55","series":"Irradiation[W/m2]","irradiance":162},
      {"time":"2017-08-26T18:00","series":"Irradiation[W/m2]","irradiance":84},
      {"time":"2017-08-26T18:05","series":"Irradiation[W/m2]","irradiance":202},
      {"time":"2017-08-26T18:10","series":"Irradiation[W/m2]","irradiance":101},
      {"time":"2017-08-26T18:15","series":"Irradiation[W/m2]","irradiance":89},
      {"time":"2017-08-26T18:20","series":"Irradiation[W/m2]","irradiance":76},
      {"time":"2017-08-26T18:25","series":"Irradiation[W/m2]","irradiance":120},
      {"time":"2017-08-26T18:30","series":"Irradiation[W/m2]","irradiance":100},
      {"time":"2017-08-26T18:35","series":"Irradiation[W/m2]","irradiance":78},
      {"time":"2017-08-26T18:40","series":"Irradiation[W/m2]","irradiance":56},
      {"time":"2017-08-26T18:45","series":"Irradiation[W/m2]","irradiance":43},
      {"time":"2017-08-26T18:49","series":"Irradiation[W/m2]","irradiance":29}
    ]
  },
  "layer": [
    {
      "layer": [
        {
          "data": {"values": [{"level": 280}]},
          "mark": {"type": "rule", "color": "#d4d4d4", "strokeWidth": 3},
          "encoding": {
            "y": {
              "field": "level", "type": "quantitative",
              "scale": {"domain": [0, 400], "nice": false, "zero": true},
              "axis": {
                "values": [0, 25, 50, 75, 100, 125, 150, 175, 200, 225, 250, 275, 300, 325, 350, 375, 400],
                "labelExpr": "datum.value % 50 == 0 ? datum.label : ''",
                "tickSize": {"condition": {"test": "datum.value % 50 == 0", "value": 22}, "value": 12},
                "labelPadding": 17,
                "labelOverlap": false,
                "title": "Power [W]",
                "titleAngle": 270,
                "titleX": -146,
                "titleY": 575,
                "titleAlign": "center",
                "titleBaseline": "alphabetic"
              }
            }
          }
        },
        {
          "data": {"name": "power"},
          "encoding": {
            "x": {
              "field": "time", "type": "temporal",
              "scale": {"domain": [
                {"year": 2017, "month": 8, "date": 26, "hours": 10, "minutes": 0},
                {"year": 2017, "month": 8, "date": 26, "hours": 18, "minutes": 50}
              ]},
              "axis": {
                "values": [
                  {"year": 2017, "month": 8, "date": 26, "hours": 10, "minutes": 12},
                  {"year": 2017, "month": 8, "date": 26, "hours": 10, "minutes": 48},
                  {"year": 2017, "month": 8, "date": 26, "hours": 11, "minutes": 24},
                  {"year": 2017, "month": 8, "date": 26, "hours": 12, "minutes": 0},
                  {"year": 2017, "month": 8, "date": 26, "hours": 12, "minutes": 36},
                  {"year": 2017, "month": 8, "date": 26, "hours": 13, "minutes": 12},
                  {"year": 2017, "month": 8, "date": 26, "hours": 13, "minutes": 48},
                  {"year": 2017, "month": 8, "date": 26, "hours": 14, "minutes": 24},
                  {"year": 2017, "month": 8, "date": 26, "hours": 15, "minutes": 0},
                  {"year": 2017, "month": 8, "date": 26, "hours": 15, "minutes": 36},
                  {"year": 2017, "month": 8, "date": 26, "hours": 16, "minutes": 12},
                  {"year": 2017, "month": 8, "date": 26, "hours": 16, "minutes": 48},
                  {"year": 2017, "month": 8, "date": 26, "hours": 17, "minutes": 24},
                  {"year": 2017, "month": 8, "date": 26, "hours": 18, "minutes": 0},
                  {"year": 2017, "month": 8, "date": 26, "hours": 18, "minutes": 36}
                ],
                "format": "%H:%M",
                "labelExpr": "(hours(datum.value)*60+minutes(datum.value)-648)%72==0 ? timeFormat(datum.value, '%H:%M') : ''",
                "tickSize": {"condition": {"test": "(hours(datum.value)*60+minutes(datum.value)-648)%72==0", "value": 25}, "value": 16},
                "labelPadding": 12,
                "labelFlush": false,
                "labelOverlap": false,
                "domainColor": "#1a1a1a",
                "tickColor": "#1a1a1a",
                "title": "Time(Aug 26.2017)",
                "titleX": 942,
                "titleY": 141,
                "titleAlign": "center",
                "titleBaseline": "alphabetic"
              }
            },
            "y": {
              "field": "power", "type": "quantitative",
              "scale": {"domain": [0, 400], "nice": false, "zero": true},
              "axis": {
                "values": [0, 25, 50, 75, 100, 125, 150, 175, 200, 225, 250, 275, 300, 325, 350, 375, 400],
                "labelExpr": "datum.value % 50 == 0 ? datum.label : ''",
                "tickSize": {"condition": {"test": "datum.value % 50 == 0", "value": 22}, "value": 12},
                "labelPadding": 17,
                "labelOverlap": false,
                "title": "Power [W]",
                "titleAngle": 270,
                "titleX": -146,
                "titleY": 575,
                "titleAlign": "center",
                "titleBaseline": "alphabetic"
              }
            }
          },
          "layer": [
            {
              "transform": [{"filter": "datum.series === 'Pmax(Transparent)'"}],
              "mark": {"type": "line", "color": "#0000ff", "strokeWidth": 3, "opacity": 0.5}
            },
            {
              "transform": [{"filter": "datum.series === 'Pmax(White Backsheet)'"}],
              "mark": {"type": "line", "color": "#008000", "strokeWidth": 3, "opacity": 0.55}
            },
            {
              "transform": [{"filter": "datum.series === 'Pmax(Transparent)'"}],
              "mark": {"type": "point", "shape": "circle", "filled": true, "size": 250, "opacity": 1, "color": "#0000ff"}
            },
            {
              "transform": [{"filter": "datum.series === 'Pmax(White Backsheet)'"}],
              "mark": {"type": "point", "shape": "triangle-down", "filled": true, "size": 300, "opacity": 1, "color": "#008000"}
            },
            {
              "transform": [{"filter": "datum.series === 'Pmax(Theoretical Prediction)'"}],
              "mark": {"type": "line", "color": "#000000", "strokeWidth": 6}
            }
          ]
        }
      ]
    },
    {
      "layer": [
        {
          "data": {"values": [{"level": 990}]},
          "mark": {"type": "rule", "color": "#ff0000", "strokeWidth": 3, "strokeDash": [15, 8, 6, 8]},
          "encoding": {
            "y": {
              "field": "level", "type": "quantitative",
              "scale": {"domain": [0, 1000], "nice": false, "zero": true},
              "axis": {
                "orient": "right",
                "values": [0, 100, 200, 300, 400, 500, 600, 700, 800, 900, 1000],
                "format": "d",
                "labelExpr": "datum.value % 200 == 0 ? datum.label : ''",
                "tickSize": {"condition": {"test": "datum.value % 200 == 0", "value": 25}, "value": 17},
                "labelPadding": 18,
                "labelOverlap": false,
                "domainColor": "#ff0000",
                "tickColor": "#ff0000",
                "labelColor": "#ff0000",
                "title": "Irradiation [W/m2]",
                "titleColor": "#000000",
                "titleAngle": 270,
                "titleX": 183,
                "titleY": 619,
                "titleAlign": "center",
                "titleBaseline": "alphabetic"
              }
            }
          }
        },
        {
          "data": {"name": "irr"},
          "encoding": {
            "x": {
              "field": "time", "type": "temporal",
              "scale": {"domain": [
                {"year": 2017, "month": 8, "date": 26, "hours": 10, "minutes": 0},
                {"year": 2017, "month": 8, "date": 26, "hours": 18, "minutes": 50}
              ]},
              "axis": {
                "values": [
                  {"year": 2017, "month": 8, "date": 26, "hours": 10, "minutes": 12},
                  {"year": 2017, "month": 8, "date": 26, "hours": 10, "minutes": 48},
                  {"year": 2017, "month": 8, "date": 26, "hours": 11, "minutes": 24},
                  {"year": 2017, "month": 8, "date": 26, "hours": 12, "minutes": 0},
                  {"year": 2017, "month": 8, "date": 26, "hours": 12, "minutes": 36},
                  {"year": 2017, "month": 8, "date": 26, "hours": 13, "minutes": 12},
                  {"year": 2017, "month": 8, "date": 26, "hours": 13, "minutes": 48},
                  {"year": 2017, "month": 8, "date": 26, "hours": 14, "minutes": 24},
                  {"year": 2017, "month": 8, "date": 26, "hours": 15, "minutes": 0},
                  {"year": 2017, "month": 8, "date": 26, "hours": 15, "minutes": 36},
                  {"year": 2017, "month": 8, "date": 26, "hours": 16, "minutes": 12},
                  {"year": 2017, "month": 8, "date": 26, "hours": 16, "minutes": 48},
                  {"year": 2017, "month": 8, "date": 26, "hours": 17, "minutes": 24},
                  {"year": 2017, "month": 8, "date": 26, "hours": 18, "minutes": 0},
                  {"year": 2017, "month": 8, "date": 26, "hours": 18, "minutes": 36}
                ],
                "format": "%H:%M",
                "labelExpr": "(hours(datum.value)*60+minutes(datum.value)-648)%72==0 ? timeFormat(datum.value, '%H:%M') : ''",
                "tickSize": {"condition": {"test": "(hours(datum.value)*60+minutes(datum.value)-648)%72==0", "value": 25}, "value": 16},
                "labelPadding": 12,
                "labelFlush": false,
                "labelOverlap": false,
                "domainColor": "#1a1a1a",
                "tickColor": "#1a1a1a",
                "title": "Time(Aug 26.2017)",
                "titleX": 942,
                "titleY": 141,
                "titleAlign": "center",
                "titleBaseline": "alphabetic"
              }
            },
            "y": {
              "field": "irradiance", "type": "quantitative",
              "scale": {"domain": [0, 1000], "nice": false, "zero": true},
              "axis": {
                "orient": "right",
                "values": [0, 100, 200, 300, 400, 500, 600, 700, 800, 900, 1000],
                "format": "d",
                "labelExpr": "datum.value % 200 == 0 ? datum.label : ''",
                "tickSize": {"condition": {"test": "datum.value % 200 == 0", "value": 25}, "value": 17},
                "labelPadding": 18,
                "labelOverlap": false,
                "domainColor": "#ff0000",
                "tickColor": "#ff0000",
                "labelColor": "#ff0000",
                "title": "Irradiation [W/m2]",
                "titleColor": "#000000",
                "titleAngle": 270,
                "titleX": 183,
                "titleY": 619,
                "titleAlign": "center",
                "titleBaseline": "alphabetic"
              }
            }
          },
          "layer": [
            {
              "mark": {"type": "line", "color": "#ff0000", "strokeWidth": 3, "opacity": 0.5}
            },
            {
              "mark": {"type": "point", "shape": "triangle-up", "filled": true, "size": 300, "opacity": 1},
              "encoding": {
                "color": {
                  "field": "series", "type": "nominal",
                  "scale": {
                    "domain": ["Pmax(Transparent)", "Pmax(White Backsheet)", "Pmax(Theoretical Prediction)", "Irradiation[W/m2]"],
                    "range": ["#0000ff", "#008000", "#000000", "#ff0000"]
                  },
                  "legend": {
                    "orient": "none",
                    "legendX": 38,
                    "legendY": 799,
                    "title": null,
                    "padding": 10,
                    "rowPadding": 14.5,
                    "symbolSize": 400,
                    "symbolStrokeWidth": 3,
                    "symbolOffset": 0,
                    "labelOffset": 101,
                    "labelFont": "Liberation Sans",
                    "labelFontSize": 67,
                    "labelColor": "#000000",
                    "labelLimit": 2000,
                    "strokeColor": "#666666",
                    "fillColor": "#ffffff",
                    "symbolType": {"expr": "datum.value === 'Pmax(Transparent)' ? 'M-3.35,0H11.65M5,0A0.85,0.85,0,1,1,3.3,0A0.85,0.85,0,1,1,5,0Z' : datum.value === 'Pmax(White Backsheet)' ? 'M-3.35,0H11.65M3.4,-0.5L4.9,-0.5L4.15,0.75Z' : datum.value === 'Pmax(Theoretical Prediction)' ? 'M-3.35,-0.3H11.65V0.3H-3.35Z' : 'M-3.35,0H11.65M4.15,-0.75L4.9,0.5L3.4,0.5Z'"},
                    "symbolStrokeColor": {"expr": "datum.value === 'Pmax(Transparent)' ? 'rgba(0,0,255,0.5)' : datum.value === 'Pmax(White Backsheet)' ? 'rgba(0,128,0,0.6)' : datum.value === 'Pmax(Theoretical Prediction)' ? 'rgba(0,0,0,0)' : 'rgba(255,0,0,0.5)'"}
                  }
                }
              }
            }
          ]
        }
      ]
    }
  ],
  "resolve": {"scale": {"y": "independent"}},
  "config": {
    "font": "Liberation Sans",
    "view": {"stroke": null},
    "legend": {"strokeWidth": 3},
    "axis": {
      "grid": false,
      "labelFont": "Liberation Sans",
      "titleFont": "Liberation Sans",
      "labelFontSize": 50,
      "titleFontSize": 60,
      "titleFontWeight": "normal",
      "labelColor": "#000000",
      "titleColor": "#000000",
      "domainWidth": 4,
      "tickWidth": 4,
      "domainColor": "#333333",
      "tickColor": "#333333"
    }
  }
}
